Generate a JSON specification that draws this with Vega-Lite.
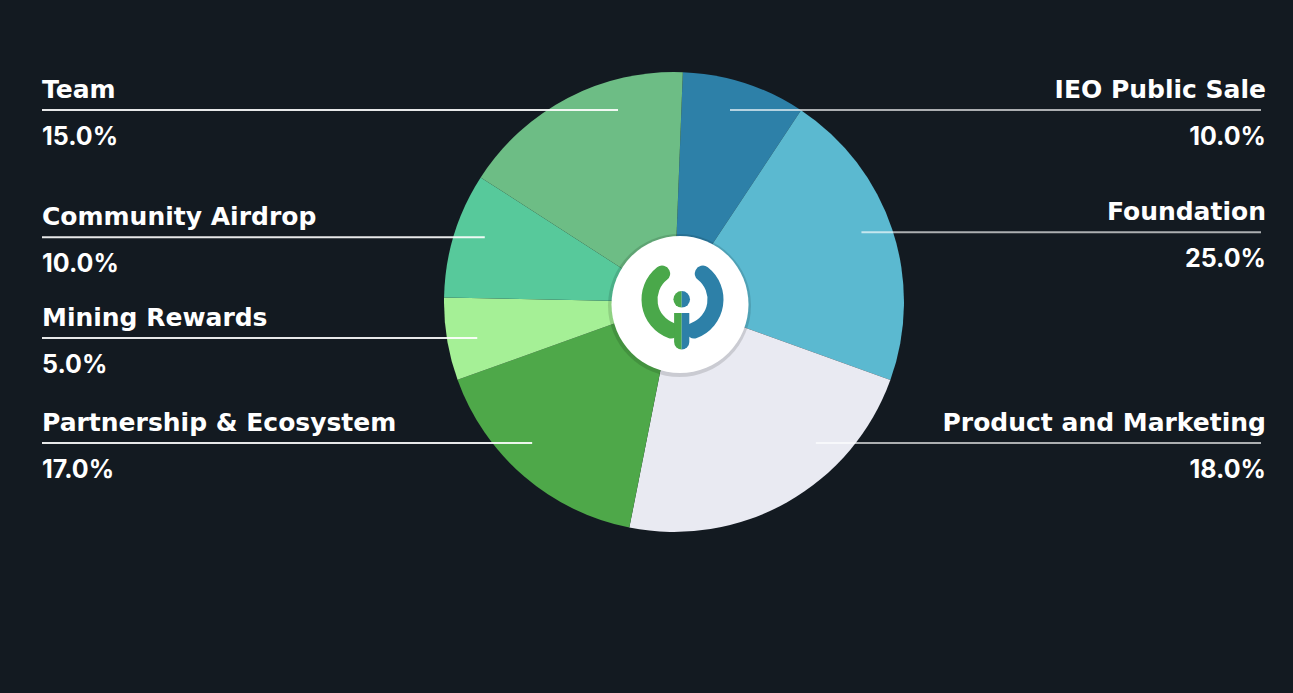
{
  "$schema": "https://vega.github.io/schema/vega-lite/v6.json",
  "width": 1238,
  "height": 604,
  "autosize": {"type": "none"},
  "padding": {"left": 55, "top": 0, "right": 0, "bottom": 89},
  "background": "#131a21",
  "config": {"view": {"stroke": null}},
  "layer": [
    {
      "data": {
        "values": [
          {"k": 1, "category": "IEO Public Sale", "share": 8.7, "pct": "10.0%"},
          {"k": 2, "category": "Foundation", "share": 21.2, "pct": "25.0%"},
          {"k": 3, "category": "Product and Marketing", "share": 22.6, "pct": "18.0%"},
          {"k": 4, "category": "Partnership & Ecosystem", "share": 16.4, "pct": "17.0%"},
          {"k": 5, "category": "Mining Rewards", "share": 5.8, "pct": "5.0%"},
          {"k": 6, "category": "Community Airdrop", "share": 8.8, "pct": "10.0%"},
          {"k": 7, "category": "Team", "share": 16.5, "pct": "15.0%"}
        ]
      },
      "transform": [
        {"window": [{"op": "sum", "field": "share", "as": "cum"}], "sort": [{"field": "k"}], "frame": [null, 0]},
        {"joinaggregate": [{"op": "sum", "field": "share", "as": "total"}]},
        {"calculate": "0.0384 + 2*PI*(datum.cum - datum.share/2)/datum.total", "as": "mid"},
        {"calculate": "sin(datum.mid) < 0 ? 'L' : 'R'", "as": "side"},
        {"calculate": "clamp(-222*cos(datum.mid), -192, 141)", "as": "ly"},
        {"calculate": "(datum.side == 'L' ? -1 : 1) * sqrt(40000 - datum.ly*datum.ly)", "as": "lx"},
        {"calculate": "datum.side == 'L' ? -632 : 587", "as": "lineEnd"},
        {"calculate": "datum.side == 'L' ? -632 : 592", "as": "tx"}
      ],
      "layer": [
        {
          "mark": {"type": "arc", "outerRadius": 230, "stroke": null},
          "encoding": {
            "theta": {"field": "share", "type": "quantitative", "stack": true, "scale": {"range": [0.0384, 6.3216]}},
            "order": {"field": "k", "type": "quantitative"},
            "color": {
              "field": "category",
              "type": "nominal",
              "legend": null,
              "scale": {
                "domain": ["IEO Public Sale", "Foundation", "Product and Marketing", "Partnership & Ecosystem", "Mining Rewards", "Community Airdrop", "Team"],
                "range": ["#2d80a8", "#5bb9d0", "#e9eaf2", "#4ea849", "#a5f096", "#57c99b", "#6dbd85"]
              }
            }
          }
        },
        {
          "mark": {"type": "rule", "strokeWidth": 2, "color": "#ffffff"},
          "encoding": {
            "x": {"field": "lineEnd", "type": "quantitative", "scale": {"domain": [-619, 619], "nice": false, "zero": false}, "axis": null},
            "x2": {"field": "lx"},
            "y": {"field": "ly", "type": "quantitative", "scale": {"domain": [-302, 302], "reverse": true, "nice": false, "zero": false}, "axis": null},
            "opacity": {"condition": {"test": "datum.side == 'L'", "value": 0.9}, "value": 0.65}
          }
        },
        {
          "mark": {"type": "text", "font": "DejaVu Sans", "fontWeight": "bold", "fontSize": 25, "color": "#ffffff", "baseline": "alphabetic", "dy": -12, "align": {"expr": "datum.side == 'L' ? 'left' : 'right'"}},
          "encoding": {
            "x": {"field": "tx", "type": "quantitative"},
            "y": {"field": "ly", "type": "quantitative"},
            "text": {"field": "category"}
          }
        },
        {
          "mark": {"type": "text", "font": "Inter", "fontWeight": "bold", "fontSize": 25, "color": "#ffffff", "baseline": "alphabetic", "dy": 35, "align": {"expr": "datum.side == 'L' ? 'left' : 'right'"}},
          "encoding": {
            "x": {"field": "tx", "type": "quantitative"},
            "y": {"field": "ly", "type": "quantitative"},
            "text": {"field": "pct"}
          }
        }
      ]
    },
    {
      "data": {"values": [{"part": "badge shadow"}]},
      "mark": {"type": "arc", "outerRadius": 71.5, "theta": 0, "theta2": 6.2832, "fill": "#000000", "opacity": 0.13},
      "encoding": {"x": {"datum": 5.5, "type": "quantitative"}, "y": {"datum": 3.5, "type": "quantitative"}}
    },
    {
      "data": {"values": [{"part": "badge"}]},
      "mark": {"type": "arc", "outerRadius": 68.5, "theta": 0, "theta2": 6.2832, "fill": "#ffffff"},
      "encoding": {"x": {"datum": 6, "type": "quantitative"}, "y": {"datum": 2.5, "type": "quantitative"}}
    },
    {
      "data": {"values": [{"part": "logo green ring"}]},
      "mark": {"type": "arc", "innerRadius": 25, "outerRadius": 41, "theta": 3.25, "theta2": 5.86, "cornerRadius": 8, "fill": "#4aa84a"},
      "encoding": {"x": {"datum": 8.5, "type": "quantitative"}, "y": {"datum": -2.5, "type": "quantitative"}}
    },
    {
      "data": {"values": [{"part": "logo blue ring"}]},
      "mark": {"type": "arc", "innerRadius": 25, "outerRadius": 41, "theta": 0.42, "theta2": 3.03, "cornerRadius": 8, "fill": "#2d80a8"},
      "encoding": {"x": {"datum": 8.5, "type": "quantitative"}, "y": {"datum": -2.5, "type": "quantitative"}}
    },
    {
      "data": {"values": [{"part": "logo dot green half"}]},
      "mark": {"type": "arc", "outerRadius": 8.3, "theta": 3.1416, "theta2": 6.2832, "fill": "#4aa84a"},
      "encoding": {"x": {"datum": 7.7, "type": "quantitative"}, "y": {"datum": -2.7, "type": "quantitative"}}
    },
    {
      "data": {"values": [{"part": "logo dot blue half"}]},
      "mark": {"type": "arc", "outerRadius": 8.3, "theta": 0, "theta2": 3.1416, "fill": "#2d80a8"},
      "encoding": {"x": {"datum": 7.7, "type": "quantitative"}, "y": {"datum": -2.7, "type": "quantitative"}}
    },
    {
      "data": {"values": [{"part": "logo stem green half"}]},
      "mark": {"type": "rect", "fill": "#4aa84a"},
      "encoding": {"x": {"datum": 0.1, "type": "quantitative"}, "x2": {"datum": 7.7}, "y": {"datum": 11, "type": "quantitative"}, "y2": {"datum": 40}}
    },
    {
      "data": {"values": [{"part": "logo stem blue half"}]},
      "mark": {"type": "rect", "fill": "#2d80a8"},
      "encoding": {"x": {"datum": 7.7, "type": "quantitative"}, "x2": {"datum": 15.3}, "y": {"datum": 11, "type": "quantitative"}, "y2": {"datum": 40}}
    },
    {
      "data": {"values": [{"part": "logo stem cap green"}]},
      "mark": {"type": "arc", "outerRadius": 7.6, "theta": 3.1416, "theta2": 4.7124, "fill": "#4aa84a"},
      "encoding": {"x": {"datum": 7.7, "type": "quantitative"}, "y": {"datum": 40, "type": "quantitative"}}
    },
    {
      "data": {"values": [{"part": "logo stem cap blue"}]},
      "mark": {"type": "arc", "outerRadius": 7.6, "theta": 1.5708, "theta2": 3.1416, "fill": "#2d80a8"},
      "encoding": {"x": {"datum": 7.7, "type": "quantitative"}, "y": {"datum": 40, "type": "quantitative"}}
    }
  ]
}
